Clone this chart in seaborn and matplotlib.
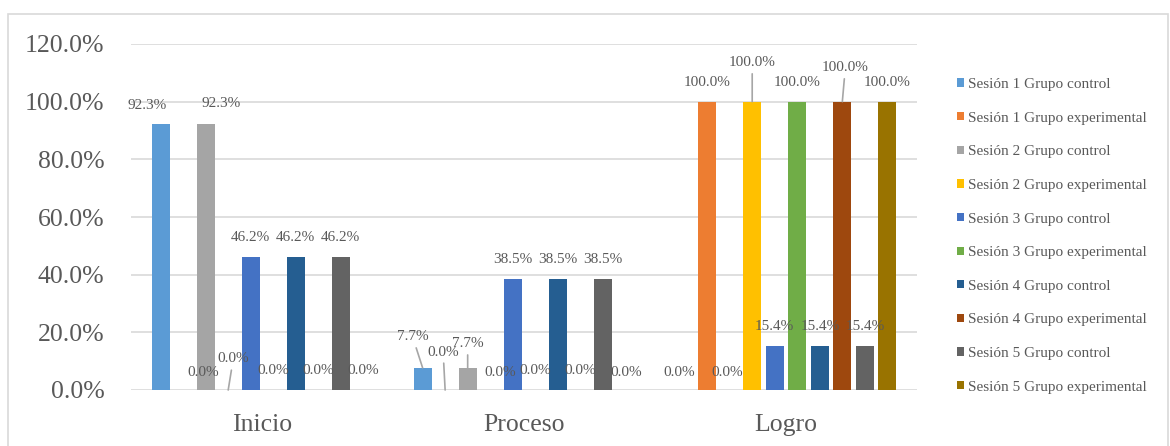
import matplotlib
matplotlib.use("Agg")
import matplotlib.pyplot as plt
from matplotlib.patches import Rectangle
from matplotlib.ticker import FuncFormatter
import seaborn as sns
import pandas as pd

# Niveles de logro por sesión y grupo (porcentaje de estudiantes)
categorias = ["Inicio", "Proceso", "Logro"]
series = [
    "Sesión 1 Grupo control", "Sesión 1 Grupo experimental",
    "Sesión 2 Grupo control", "Sesión 2 Grupo experimental",
    "Sesión 3 Grupo control", "Sesión 3 Grupo experimental",
    "Sesión 4 Grupo control", "Sesión 4 Grupo experimental",
    "Sesión 5 Grupo control", "Sesión 5 Grupo experimental",
]
s1_control = [92.3, 7.7, 0.0]
s1_experimental = [0.0, 0.0, 100.0]
s2_control = [92.3, 7.7, 0.0]
s2_experimental = [0.0, 0.0, 100.0]
s3_control = [46.2, 38.5, 15.4]
s3_experimental = [0.0, 0.0, 100.0]
s4_control = [46.2, 38.5, 15.4]
s4_experimental = [0.0, 0.0, 100.0]
s5_control = [46.2, 38.5, 15.4]
s5_experimental = [0.0, 0.0, 100.0]
valores = [s1_control, s1_experimental, s2_control, s2_experimental,
           s3_control, s3_experimental, s4_control, s4_experimental,
           s5_control, s5_experimental]

colores = ["#5B9BD5", "#ED7D31", "#A5A5A5", "#FFC000", "#4472C4",
           "#70AD47", "#255E91", "#9E480E", "#636363", "#997300"]

df = pd.DataFrame(
    [(c, s, v[i]) for s, v in zip(series, valores) for i, c in enumerate(categorias)],
    columns=["categoria", "serie", "valor"],
)

sns.set_theme(style="white")
plt.rcParams["font.family"] = ["Liberation Serif", "DejaVu Serif"]
texto = "#595959"
rejilla = "#D9D9D9"

fig = plt.figure(figsize=(11.7, 4.46), dpi=100)
ax = fig.add_axes([131 / 1170, 56 / 446, 786 / 1170, 346 / 446])

sns.barplot(data=df, x="categoria", y="valor", hue="serie", hue_order=series,
            order=categorias, palette=colores, width=0.86, gap=0.2,
            saturation=1, linewidth=0, errorbar=None, ax=ax)

ax.set_ylim(0, 120)
ax.set_yticks(range(0, 121, 20))
ax.yaxis.set_major_formatter(FuncFormatter(lambda v, _: f"{v:.1f}%"))
ax.set_xlim(-0.5, 2.5)
ax.set_xlabel("")
ax.set_ylabel("")
ax.grid(axis="y", color=rejilla, linewidth=1.2)
ax.grid(axis="x", visible=False)
ax.set_axisbelow(True)
for sp in ax.spines.values():
    sp.set_visible(False)
ax.tick_params(axis="y", length=0, pad=19, labelsize=18.5, labelcolor=texto)
ax.tick_params(axis="x", length=0, pad=17, labelsize=18.5, labelcolor=texto)

# Desplazamientos (px) de cada etiqueta respecto a la parte superior de su barra,
# y si lleva línea guía; índice [serie][categoría]
desplaz = {
    (0, 0): (-13, 18, False), (1, 0): (20, 17, False), (2, 0): (15, 20, False),
    (3, 0): (5, 31, True),
    (0, 1): (-10, 31, True), (1, 1): (-2, 38, True), (2, 1): (0, 24, True),
    (3, 1): (10, 18, False), (9, 1): (1, 18, False),
    (0, 2): (-5, 18, False), (2, 2): (-2, 18, False),
    (3, 2): (0, 39, True), (7, 2): (3, 34, True),
}

for j, cont in enumerate(ax.containers):
    for i, barra in enumerate(cont):
        v = valores[j][i]
        xc = barra.get_x() + barra.get_width() / 2
        dx, dy, guia = desplaz.get((j, i), (0, 19, False))
        kw = {}
        if guia:
            kw["arrowprops"] = dict(arrowstyle="-", color="#A6A6A6", lw=1.2,
                                    shrinkA=1, shrinkB=0)
        ax.annotate(f"{v:.1f}%", xy=(xc, v), xytext=(dx, dy),
                    textcoords="offset pixels", ha="center", va="center",
                    fontsize=11, color=texto, **kw)

handles, labels = ax.get_legend_handles_labels()
ax.legend(handles, labels, loc="upper left",
          bbox_to_anchor=(957 / 1170, 1 - 78 / 446), bbox_transform=fig.transFigure,
          frameon=False, fontsize=11, labelcolor=texto, handlelength=0.45,
          handleheight=0.45, handletextpad=0.3, labelspacing=1.35,
          borderpad=0, borderaxespad=0)

# Marco exterior del gráfico
fig.patches.append(Rectangle((8 / 1170, -0.1), (1168 - 8) / 1170, 1.1 - 14 / 446,
                             transform=fig.transFigure, fill=False,
                             edgecolor=rejilla, linewidth=1.2))

fig.savefig("out.png", dpi=100)
